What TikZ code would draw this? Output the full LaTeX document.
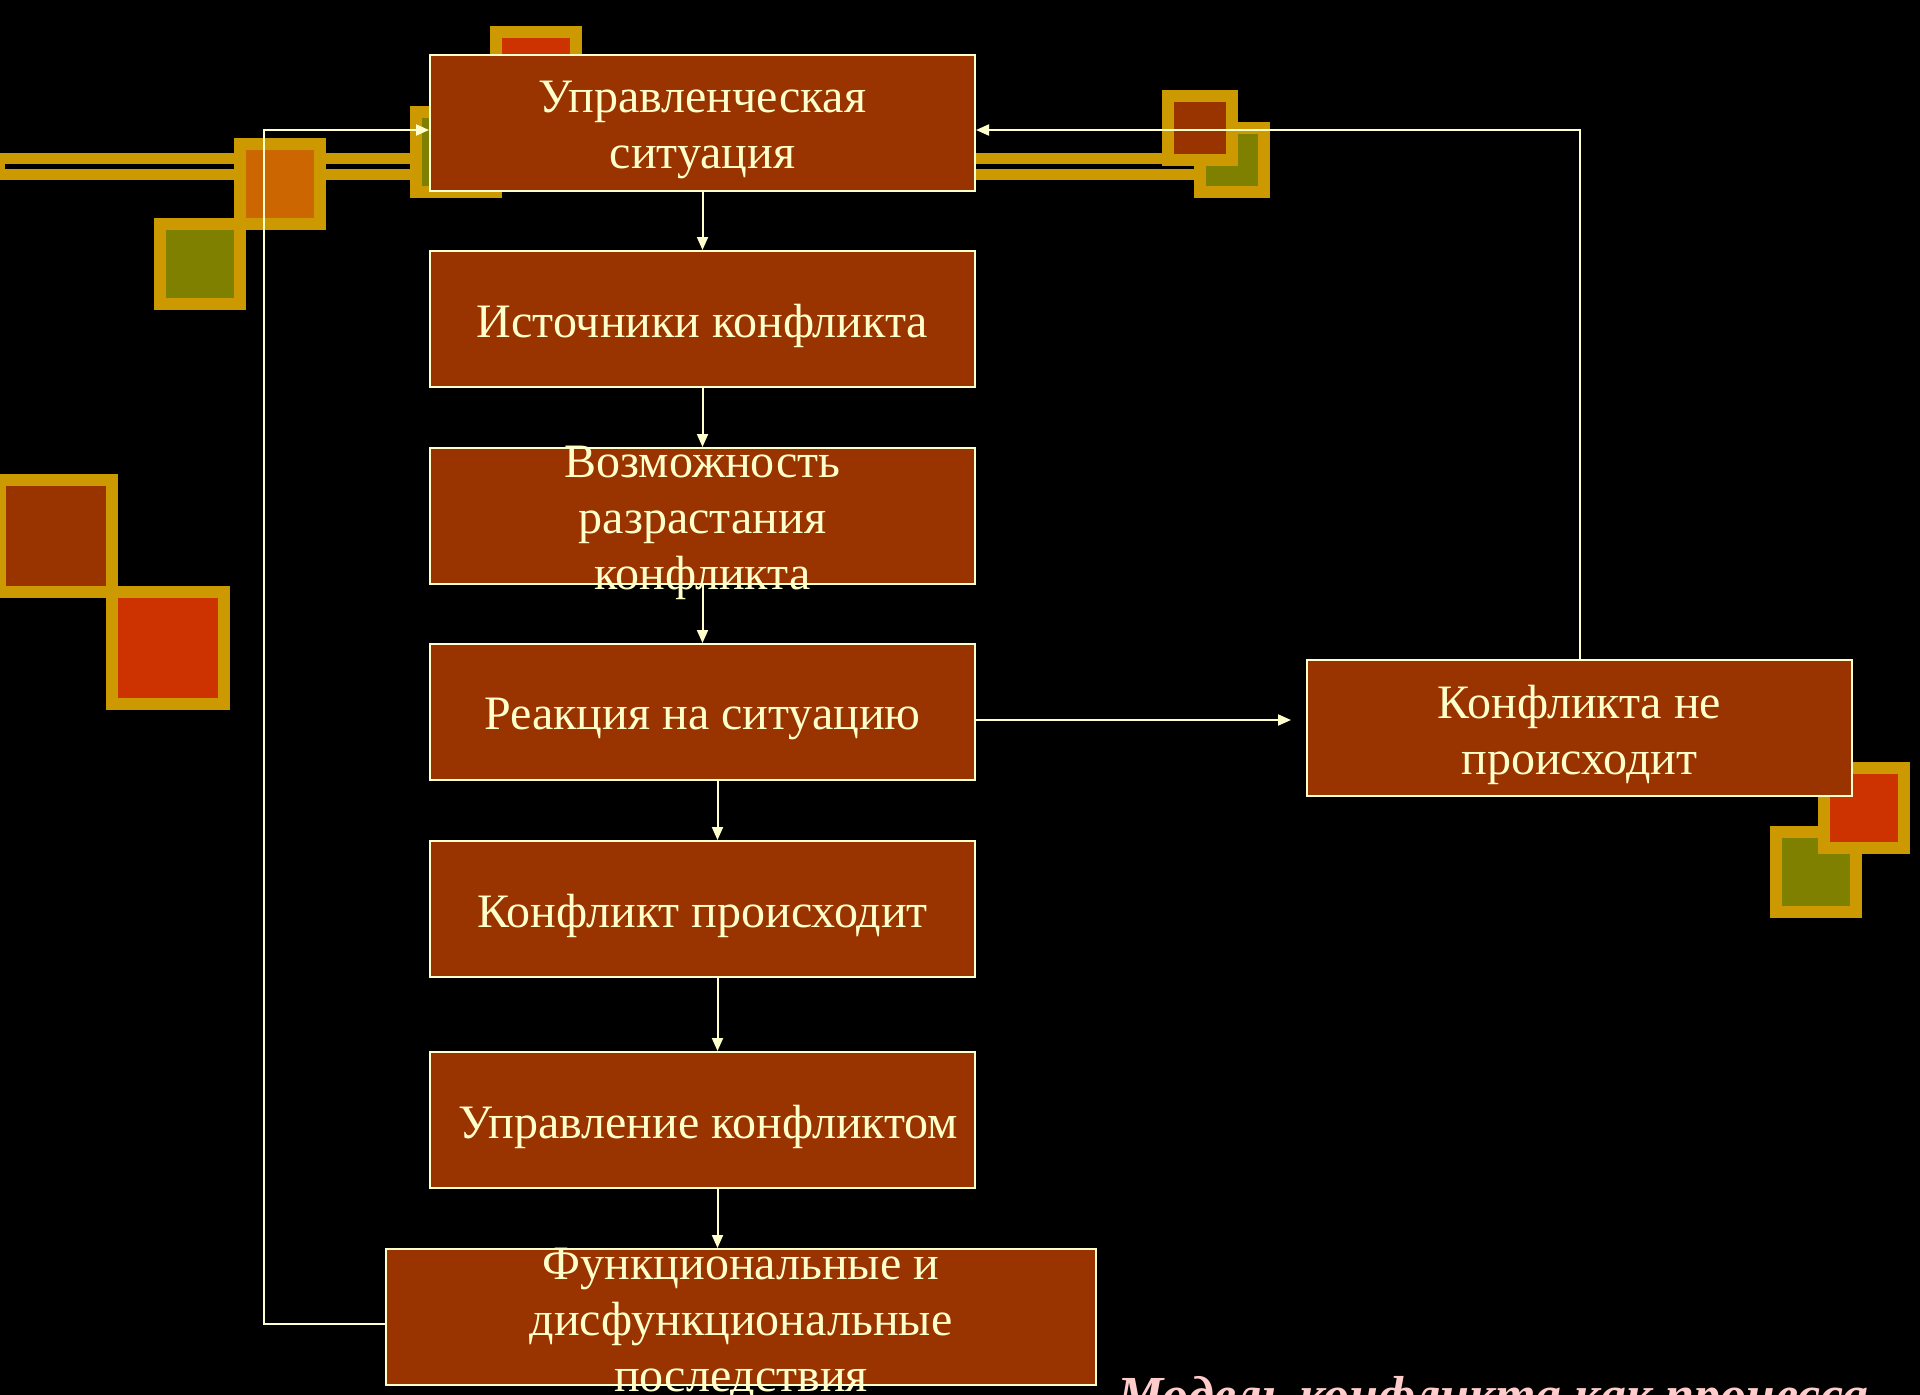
\documentclass[tikz,border=0pt]{standalone}
\usepackage{fontspec}
\setmainfont{Liberation Serif}
\usetikzlibrary{arrows.meta}
\definecolor{goldc}{HTML}{CC9900}
\definecolor{brownc}{HTML}{993300}
\definecolor{redc}{HTML}{CC3300}
\definecolor{orangec}{HTML}{CC6600}
\definecolor{olivec}{HTML}{808000}
\definecolor{lightc}{HTML}{FFFFCC}
\definecolor{pinkc}{HTML}{FFCCCC}
\newcommand\decsq[4]{% x y size fill
  \fill[goldc] (#1,#2) rectangle ++(#3,#3);
  \fill[#4] (#1+12,#2+12) rectangle ++(#3-24,#3-24);}
\tikzset{
  box/.style={draw=lightc, line width=2pt, fill=brownc, inner sep=0pt,
    minimum width=545pt, minimum height=136pt},
  boxtext/.style={text=lightc, align=center, inner sep=0pt,
    font=\fontsize{48}{56}\selectfont},
  conn/.style={draw=lightc, line width=2pt, -{Triangle[length=13pt,width=11pt]}},
  plainline/.style={draw=lightc, line width=2pt}
}
\begin{document}
\begin{tikzpicture}[x=1pt,y=-1pt]
\useasboundingbox (0,0) rectangle (1920,1395);
\fill[black] (0,0) rectangle (1920,1395);
% bars
\fill[goldc] (0,153) rectangle (440,180);
\fill[black] (5,164.3) rectangle (440,169);
\fill[goldc] (970,153) rectangle (1200,180);
\fill[black] (970,164.3) rectangle (1200,169);
% decorative squares
\decsq{490}{26}{92}{redc}
\decsq{410}{106}{92}{olivec}
\decsq{234}{138}{92}{orangec}
\decsq{154}{218}{92}{olivec}
\decsq{-6}{474}{124}{brownc}
\decsq{106}{586}{124}{redc}
\decsq{1194}{122}{76}{olivec}
\decsq{1162}{90}{76}{brownc}
\decsq{1770}{826}{92}{olivec}
\decsq{1818}{762}{92}{redc}
% boxes
\node[box] (b1) at (702.5,123) {};
\node[box] (b2) at (702.5,319) {};
\node[box] (b3) at (702.5,516) {};
\node[box] (b4) at (702.5,712) {};
\node[box] (b5) at (702.5,909) {};
\node[box] (b6) at (702.5,1120) {};
\node[box, minimum width=710pt] (b7) at (741,1317) {};
\node[box] (b8) at (1579.5,728) {};
% texts
\node[boxtext, yshift=-7pt] (t1) at (b1) {Управленческая\\ситуация};
\node[boxtext, yshift=-7pt] (t2) at (b2) {Источники конфликта};
\node[boxtext, yshift=-7pt] (t3) at (b3) {Возможность\\разрастания\\конфликта};
\node[boxtext, yshift=-7pt] (t4) at (b4) {Реакция на ситуацию};
\node[boxtext, yshift=-7pt] (t5) at (b5) {Конфликт происходит};
\node[boxtext, yshift=-7pt, xshift=6pt] (t6) at (b6) {Управление конфликтом};
\node[boxtext, yshift=-7pt] (t7) at (b7) {Функциональные и\\дисфункциональные\\последствия};
\node[boxtext, yshift=-7pt] (t8) at (b8) {Конфликта не\\происходит};
% connectors
\draw[conn] (b1.south) -- (b2.north);
\draw[conn] (b2.south) -- (b3.north);
\draw[conn] (b3.south) -- (b4.north);
\draw[conn] ([xshift=15pt]b4.south) -- ([xshift=15pt]b5.north);
\draw[conn] ([xshift=15pt]b5.south) -- ([xshift=15pt]b6.north);
\draw[conn] ([xshift=15pt]b6.south) -- ([xshift=15pt]b6.south |- b7.north);
\coordinate (b8in) at (1291,720);
\draw[conn] (b4.east |- b8in) -- (b8in);
\draw[conn] (b8.north) |- ([yshift=-7pt]b1.east);
\coordinate (lc) at (264,1324);
\draw[conn] (b7.west |- lc) -- (lc) |- ([yshift=-7pt]b1.west);
% title
\node[anchor=base west, inner sep=0pt, text=pinkc,
  font=\fontsize{52}{56}\selectfont\bfseries\itshape] (title) at (1117,1412)
  {Модель конфликта как процесса};
\end{tikzpicture}
\end{document}
